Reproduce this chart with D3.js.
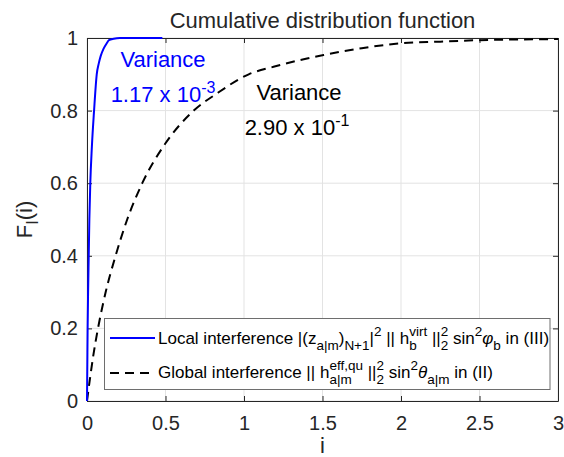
<!DOCTYPE html>
<html>
<head>
<meta charset="utf-8">
<script src="https://cdn.jsdelivr.net/npm/d3@7/dist/d3.min.js"></script>
<style>
  html, body { margin: 0; padding: 0; background: #ffffff; }
  svg { display: block; }
  text { font-family: "Liberation Sans", Arial, Helvetica, sans-serif; }
</style>
</head>
<body>
<svg id="chart" width="564" height="457"></svg>
<script>
// Empirical CDF samples (i, F)
const localI  = [0, 0.002, 0.004, 0.007, 0.011, 0.015, 0.021, 0.031, 0.045, 0.062, 0.075, 0.087, 0.105, 0.125, 0.14, 0.17, 0.21, 0.26, 0.35, 0.48];
const localF  = [0, 0.1, 0.2, 0.3, 0.4, 0.5, 0.6, 0.7, 0.8, 0.9, 0.93, 0.95, 0.97, 0.985, 0.994, 0.998, 1, 1, 1, 1];
const globalI = [0, 0.02, 0.04, 0.07, 0.119, 0.182, 0.256, 0.352, 0.5, 0.68, 0.83, 1.03, 1.2, 1.354, 1.507, 1.75, 1.99, 2.25, 2.5, 2.75, 3];
const globalF = [0, 0.065, 0.125, 0.2, 0.3, 0.4, 0.5, 0.6, 0.71, 0.8, 0.848, 0.9, 0.922, 0.939, 0.953, 0.972, 0.985, 0.99, 0.994, 0.996, 0.997];
const xTicks = [0, 0.5, 1, 1.5, 2, 2.5, 3];
const yTicks = [0, 0.2, 0.4, 0.6, 0.8, 1];
const xTickLabels = ["0", "0.5", "1", "1.5", "2", "2.5", "3"];
const yTickLabels = ["0", "0.2", "0.4", "0.6", "0.8", "1"];

const svg = d3.select("#chart");
const box = { left: 87, right: 558, top: 38, bottom: 401 };
const ink = "#262626";

const x = d3.scaleLinear().domain([0, 3]).range([box.left, box.right]);
const y = d3.scaleLinear().domain([0, 1]).range([box.bottom, box.top]);

// grid
const grid = svg.append("g").attr("stroke", "#e3e3e3").attr("stroke-width", 1);
grid.selectAll("line.gx").data(xTicks).join("line")
  .attr("x1", d => x(d)).attr("x2", d => x(d))
  .attr("y1", box.top).attr("y2", box.bottom);
grid.selectAll("line.gy").data(yTicks).join("line")
  .attr("y1", d => y(d)).attr("y2", d => y(d))
  .attr("x1", box.left).attr("x2", box.right);

// axes (ticks point inward, mirrored on top/right)
function styleAxis(g) {
  g.selectAll("path.domain").attr("stroke", ink).attr("stroke-width", 1);
  g.selectAll(".tick line").attr("stroke", ink);
  g.selectAll(".tick text").attr("fill", ink).attr("font-size", 20)
    .attr("font-family", "'Liberation Sans', Arial, Helvetica, sans-serif");
}
svg.append("g").attr("transform", `translate(0,${box.bottom})`)
  .call(d3.axisBottom(x).tickValues(xTicks).tickFormat((d, i) => xTickLabels[i])
    .tickSizeInner(-5).tickSizeOuter(0).tickPadding(15))
  .call(styleAxis);
svg.append("g").attr("transform", `translate(${box.left},0)`)
  .call(d3.axisLeft(y).tickValues(yTicks).tickFormat((d, i) => yTickLabels[i])
    .tickSizeInner(-5).tickSizeOuter(0).tickPadding(9))
  .call(styleAxis);
svg.append("g").attr("transform", `translate(0,${box.top})`)
  .call(d3.axisTop(x).tickValues(xTicks).tickFormat("").tickSizeInner(-5).tickSizeOuter(0))
  .call(styleAxis);
svg.append("g").attr("transform", `translate(${box.right},0)`)
  .call(d3.axisRight(y).tickValues(yTicks).tickFormat("").tickSizeInner(-5).tickSizeOuter(0))
  .call(styleAxis);

// curves
const line = d3.line().x(d => x(d[0])).y(d => y(d[1])).curve(d3.curveMonotoneX);
svg.append("path").datum(globalI.map((v, i) => [v, globalF[i]]))
  .attr("d", line).attr("fill", "none").attr("stroke", "#000000")
  .attr("stroke-width", 2).attr("stroke-dasharray", "9,6");
svg.append("path").datum(localI.map((v, i) => [v, localF[i]]))
  .attr("d", line).attr("fill", "none").attr("stroke", "#0000ff")
  .attr("stroke-width", 2);

// rich text with TeX-like sub/superscripts
function rich(g, x0, y0, parts, o) {
  const fs = o.fs, sfs = o.sfs;
  const grp = g.append("g").attr("fill", o.fill || ink);
  let cx = 0;
  function put(str, dx, dy, size, italic) {
    const t = grp.append("text").attr("x", cx + dx).attr("y", dy)
      .attr("font-size", size).text(str).attr("xml:space", "preserve")
      .style("white-space", "pre");
    if (italic) t.attr("font-style", "italic");
    return t.node().getComputedTextLength();
  }
  parts.forEach(p => {
    if (p.t !== undefined) cx += put(p.t, 0, 0, fs, p.it);
    else {
      let w = 0;
      if (p.sub !== undefined) w = Math.max(w, put(p.sub, 0, o.subDy, sfs));
      if (p.sup !== undefined) w = Math.max(w, put(p.sup, 0, o.supDy, sfs));
      cx += w;
    }
  });
  const shift = o.anchor === "middle" ? -cx / 2 : 0;
  grp.attr("transform", `translate(${x0 + shift},${y0})`);
  return cx;
}

// title and axis labels
svg.append("text").attr("x", (box.left + box.right) / 2).attr("y", 28)
  .attr("text-anchor", "middle").attr("font-size", 22).attr("fill", ink)
  .text("Cumulative distribution function");
svg.append("text").attr("x", (box.left + box.right) / 2).attr("y", 453)
  .attr("text-anchor", "middle").attr("font-size", 22).attr("fill", ink).text("i");
const ylab = svg.append("g").attr("transform", `translate(32,${(box.top + box.bottom) / 2}) rotate(-90)`);
rich(ylab, 0, 0, [{ t: "F" }, { sub: "I" }, { t: "(i)" }],
  { fs: 22, sfs: 16, subDy: 6, supDy: -9, anchor: "middle" });

// variance annotations
svg.append("text").attr("x", 163).attr("y", 67).attr("text-anchor", "middle")
  .attr("font-size", 22).attr("fill", "#0000ff").text("Variance");
rich(svg, 163, 102, [{ t: "1.17 x 10" }, { sup: "-3" }],
  { fs: 22, sfs: 16, subDy: 6, supDy: -9, anchor: "middle", fill: "#0000ff" });
svg.append("text").attr("x", 299).attr("y", 100).attr("text-anchor", "middle")
  .attr("font-size", 22).attr("fill", "#000000").text("Variance");
rich(svg, 297, 135, [{ t: "2.90 x 10" }, { sup: "-1" }],
  { fs: 22, sfs: 16, subDy: 6, supDy: -9, anchor: "middle", fill: "#000000" });

// legend
const leg = svg.append("g");
leg.append("rect").attr("x", 104.5).attr("y", 318.5).attr("width", 445.5).attr("height", 71)
  .attr("fill", "#ffffff").attr("stroke", "#6e6e6e").attr("stroke-width", 1);
leg.append("line").attr("x1", 110).attr("x2", 155).attr("y1", 338).attr("y2", 338)
  .attr("stroke", "#0000ff").attr("stroke-width", 2);
leg.append("line").attr("x1", 110).attr("x2", 155).attr("y1", 373).attr("y2", 373)
  .attr("stroke", "#000000").attr("stroke-width", 2).attr("stroke-dasharray", "9,6");
const lo = { fs: 17, sfs: 13.5, subDy: 5.5, supDy: -8.5, fill: "#000000" };
rich(leg, 158, 344, [
  { t: "Local interference |(z" }, { sub: "a|m" }, { t: ")" }, { sub: "N+1" }, { t: "|" }, { sup: "2" },
  { t: " || h" }, { sub: "b", sup: "virt" }, { t: " ||" }, { sub: "2", sup: "2" },
  { t: " sin" }, { sup: "2" }, { t: "\u03C6", it: true }, { sub: "b" }, { t: " in (III)" }
], lo);
rich(leg, 158, 378, [
  { t: "Global interference || h" }, { sub: "a|m", sup: "eff,qu" }, { t: " ||" }, { sub: "2", sup: "2" },
  { t: " sin" }, { sup: "2" }, { t: "\u03B8", it: true }, { sub: "a|m" }, { t: " in (II)" }
], lo);
</script>
</body>
</html>
